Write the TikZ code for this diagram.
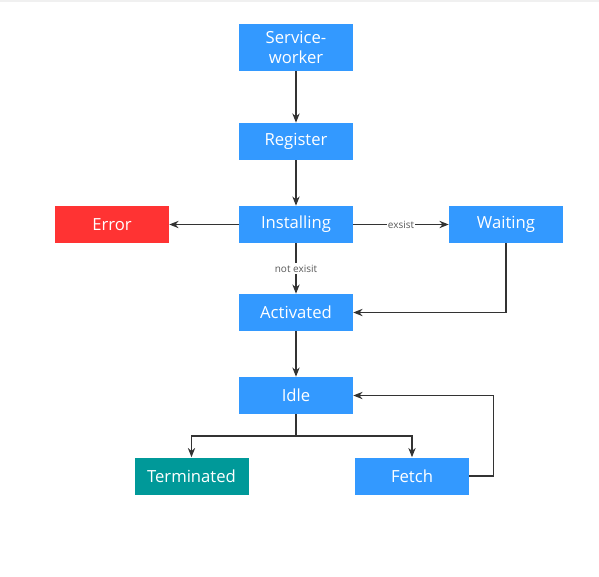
\documentclass[tikz,border=0pt]{standalone}
\usepackage{fontspec}
\setmainfont{Open Sans}
\usetikzlibrary{arrows.meta}
\definecolor{boxblue}{HTML}{3399FF}
\definecolor{boxred}{HTML}{FF3333}
\definecolor{boxteal}{HTML}{009999}
\definecolor{linegray}{HTML}{333333}
\tikzset{
  state/.style={fill=boxblue, text=white, minimum width=85.5pt, minimum height=27.75pt,
    inner sep=0pt, align=center, font=\fontsize{12.5}{15}\selectfont},
  flow/.style={draw=linegray, line width=0.9pt, -{Stealth[length=7pt,width=5.5pt]}},
  cond/.style={fill=white, text=black!65, inner sep=1pt, font=\fontsize{7.5}{9}\selectfont}
}
\begin{document}
\begin{tikzpicture}[x=0.75pt, y=-0.75pt]
	\useasboundingbox (0,0) rectangle (599,576);
	\draw[gray!12, line width=1.5pt] (0,1) to (599,1);

	 \node[state, minimum height=35.25pt] (sw) at(296, 47.5){Service-\\worker};
	 \node[state] (reg) at(296, 141.5){Register};
	 \node[state] (inst) at(296, 224.5){Installing};
	 \node[state, fill=boxred] (err) at(112, 224.5){Error};
	 \node[state] (wait) at(506, 224.5){Waiting};
	 \node[state] (act) at(296, 312.5){Activated};
	 \node[state] (idle) at(296, 395.5){Idle};
	 \node[state, fill=boxteal] (term) at(191.5, 476){Terminated};
	 \node[state] (fetch) at(412, 476){Fetch};

	 \coordinate (fork) at(296, 436);

		\draw[flow] (sw) to (reg);
		\draw[flow] (reg) to (inst);
		\draw[flow] (inst) to (err);
		\draw[flow] (inst) to node[cond]{exsist} (wait);
		\draw[flow] (inst) to node[cond]{not exisit} (act);
		\draw[flow] (wait.south) |- (act.east);
		\draw[flow] (act) to (idle);

		\draw[draw=linegray, line width=0.9pt] (idle) to (fork);
		\draw[flow] (fork) -| (term);
		\draw[flow] (fork) -| (fetch);
		\draw[flow] (fetch.east) -- ++(24, 0) |- (idle.east);

\end{tikzpicture}
\end{document}
